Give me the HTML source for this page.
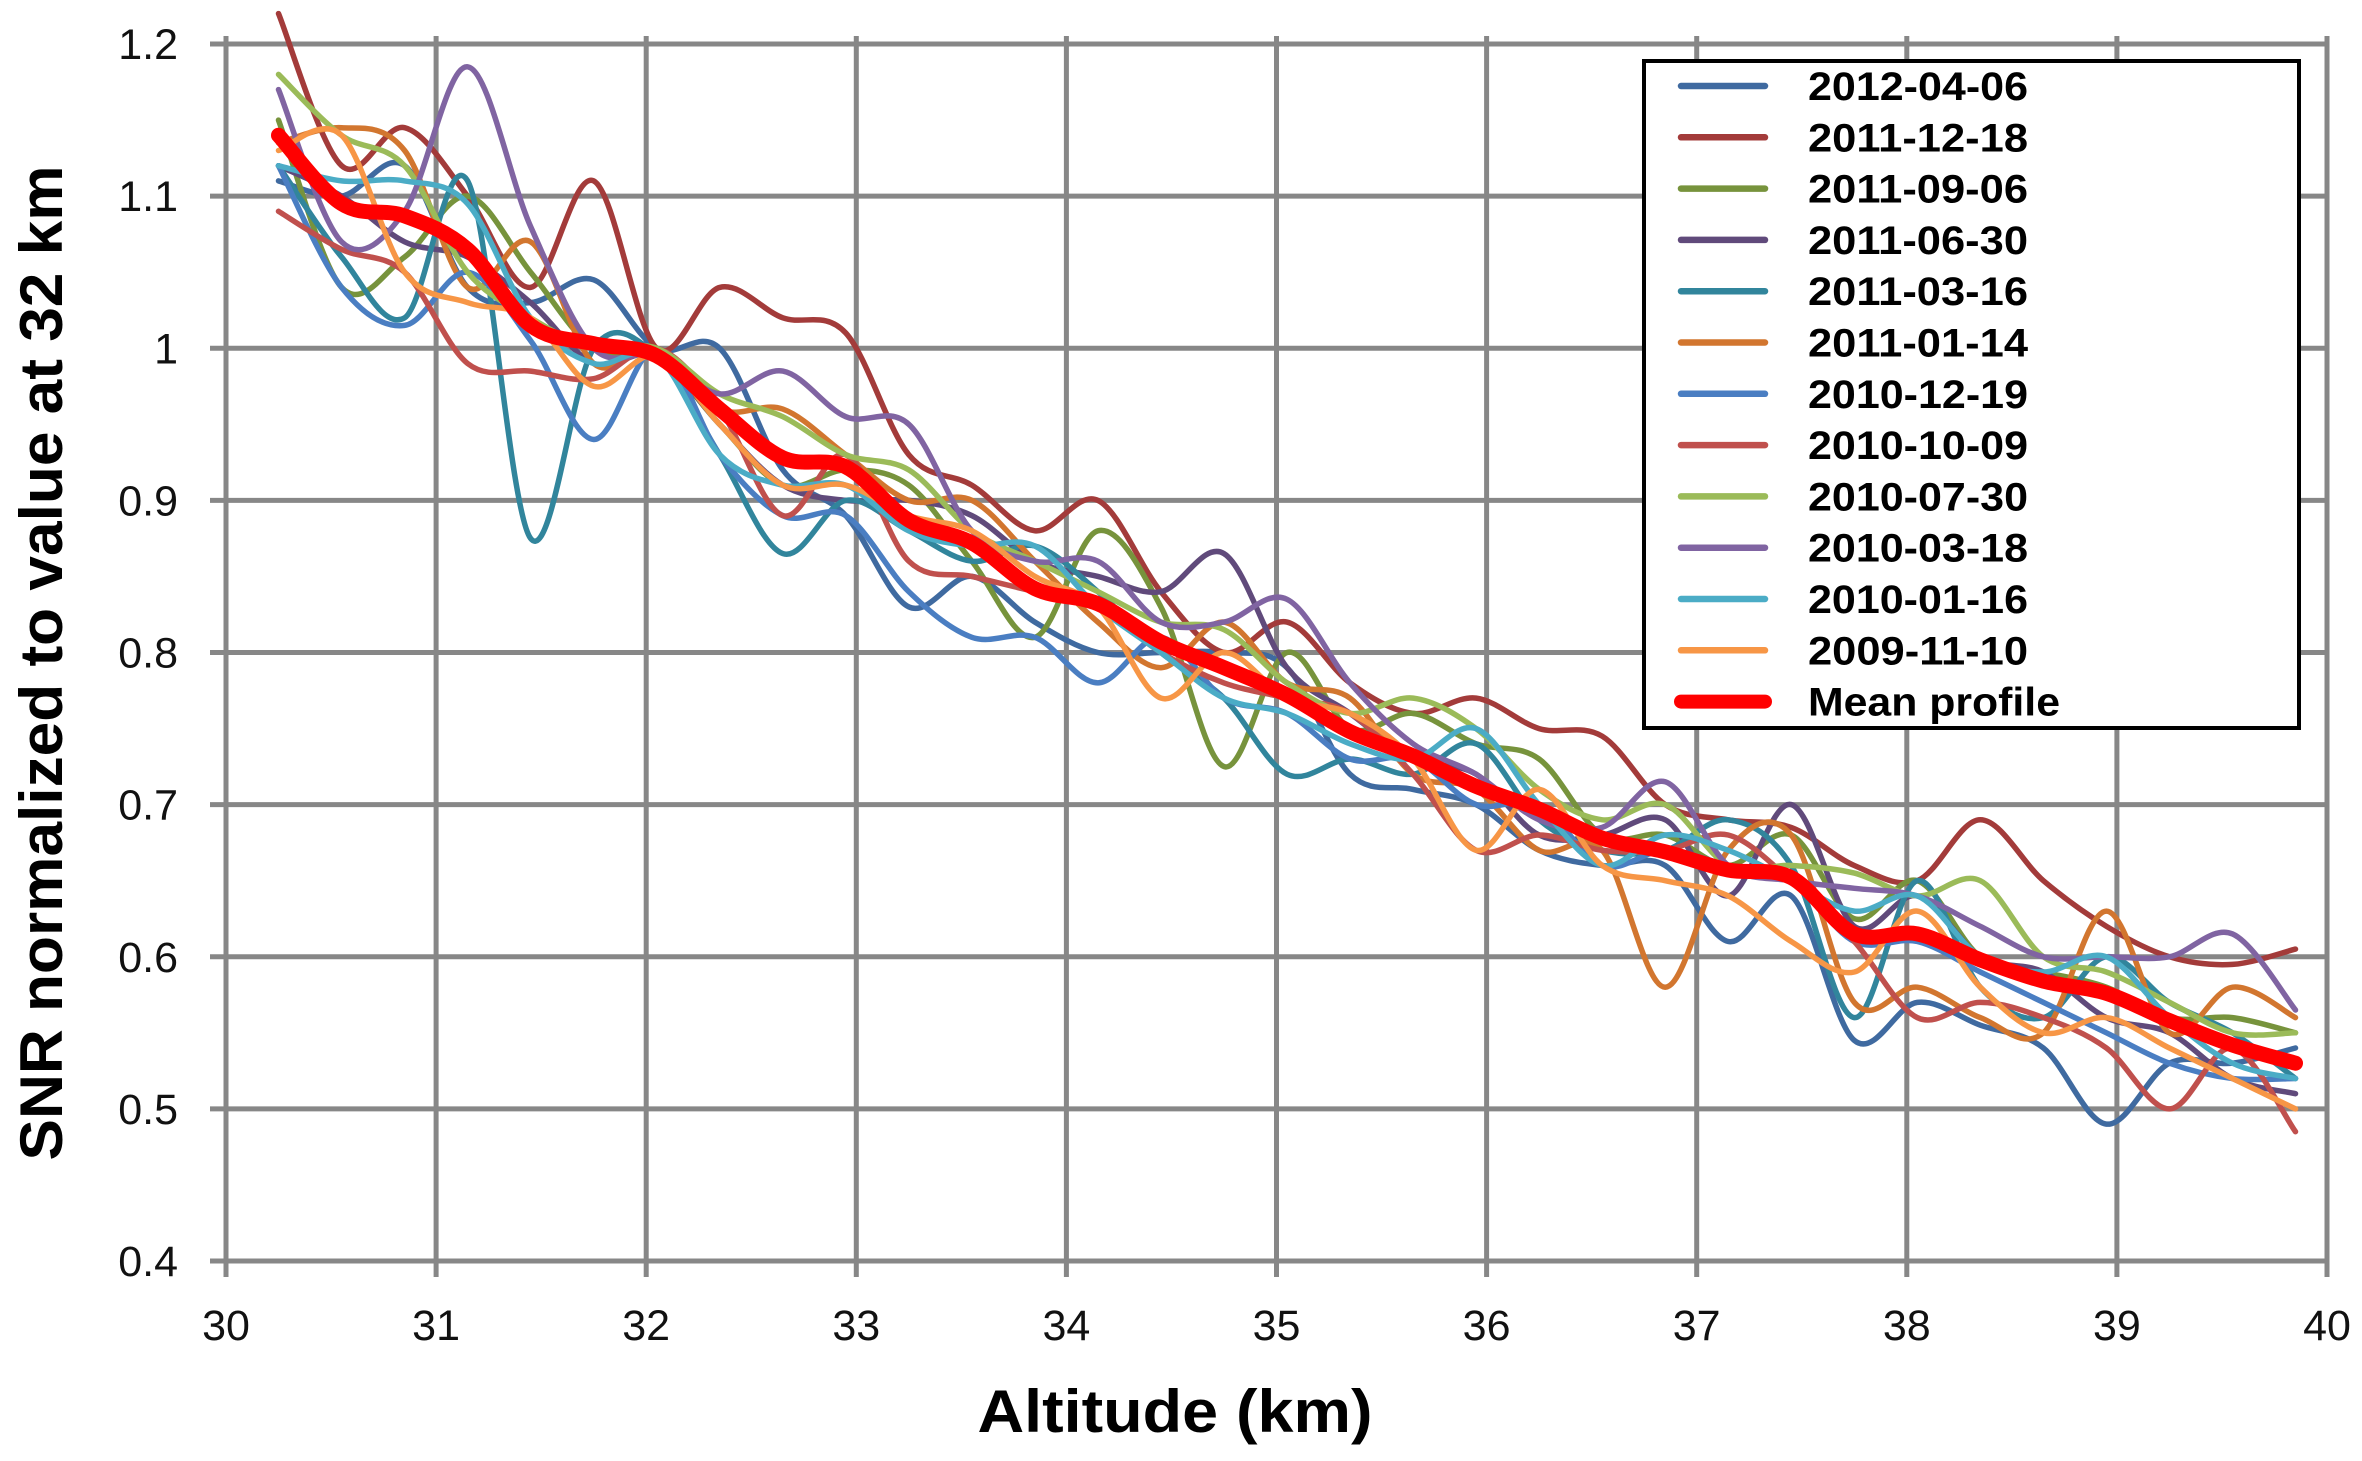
<!DOCTYPE html>
<html><head><meta charset="utf-8"><style>
html,body{margin:0;padding:0;background:#fff;}
svg{display:block;}
</style></head><body>
<svg id="chart" xmlns="http://www.w3.org/2000/svg" width="2362" height="1461" viewBox="0 0 2362 1461">
<rect x="0" y="0" width="2362" height="1461" fill="#fff"/>
<g id="grid"></g>
<g id="series"></g>
<g id="axes"></g>
<g id="legend"></g>
<text x="1175" y="1432" text-anchor="middle" font-family="'Liberation Sans',sans-serif" font-weight="bold" font-size="60" textLength="395" lengthAdjust="spacingAndGlyphs">Altitude (km)</text>
<text transform="translate(62,663) rotate(-90)" text-anchor="middle" font-family="'Liberation Sans',sans-serif" font-weight="bold" font-size="60" textLength="995" lengthAdjust="spacingAndGlyphs">SNR normalized to value at 32 km</text>
</svg>
<script>
const xTicks = [30,31,32,33,34,35,36,37,38,39,40];
const yTicks = [0.4,0.5,0.6,0.7,0.8,0.9,1,1.1,1.2];
const yTickLabels = ["0.4","0.5","0.6","0.7","0.8","0.9","1","1.1","1.2"];
const altitudes = [30.25,30.55,30.85,31.15,31.45,31.75,32.05,32.35,32.65,32.95,33.25,33.55,33.85,34.15,34.45,34.75,35.05,35.35,35.65,35.95,36.25,36.55,36.85,37.15,37.45,37.75,38.05,38.35,38.65,38.95,39.25,39.55,39.85];
const seriesNames = ["2012-04-06","2011-12-18","2011-09-06","2011-06-30","2011-03-16","2011-01-14","2010-12-19","2010-10-09","2010-07-30","2010-03-18","2010-01-16","2009-11-10"];
const s20120406 = [1.11,1.10,1.12,1.04,1.03,1.045,1.0,1.0,0.92,0.89,0.83,0.85,0.82,0.80,0.80,0.80,0.79,0.72,0.71,0.70,0.67,0.66,0.66,0.61,0.64,0.545,0.57,0.555,0.54,0.49,0.53,0.53,0.54];
const s20111218 = [1.22,1.12,1.145,1.10,1.04,1.11,1.0,1.04,1.02,1.01,0.93,0.91,0.88,0.90,0.84,0.80,0.82,0.78,0.76,0.77,0.75,0.745,0.70,0.69,0.685,0.66,0.65,0.69,0.65,0.62,0.60,0.595,0.605];
const s20110906 = [1.15,1.04,1.06,1.10,1.05,1.0,0.995,0.95,0.91,0.92,0.91,0.86,0.81,0.88,0.83,0.725,0.80,0.75,0.76,0.74,0.73,0.68,0.68,0.66,0.68,0.625,0.65,0.60,0.59,0.58,0.56,0.56,0.55];
const s20110630 = [1.12,1.10,1.07,1.06,1.03,0.99,0.995,0.95,0.91,0.90,0.90,0.89,0.86,0.85,0.84,0.865,0.79,0.76,0.73,0.72,0.68,0.68,0.69,0.64,0.70,0.62,0.64,0.60,0.59,0.56,0.55,0.52,0.51];
const s20110316 = [1.12,1.06,1.02,1.11,0.875,1.0,0.995,0.93,0.865,0.90,0.88,0.86,0.87,0.84,0.80,0.77,0.72,0.73,0.72,0.74,0.69,0.67,0.67,0.69,0.66,0.56,0.65,0.58,0.56,0.60,0.57,0.55,0.52];
const s20110114 = [1.135,1.145,1.13,1.04,1.07,0.99,1.0,0.96,0.96,0.93,0.90,0.90,0.86,0.82,0.79,0.82,0.78,0.77,0.72,0.71,0.67,0.67,0.58,0.67,0.68,0.57,0.58,0.56,0.55,0.63,0.55,0.58,0.56];
const s20101219 = [1.12,1.04,1.015,1.05,1.005,0.94,1.0,0.93,0.89,0.89,0.84,0.81,0.81,0.78,0.81,0.77,0.76,0.73,0.73,0.70,0.70,0.66,0.67,0.66,0.65,0.61,0.61,0.59,0.57,0.55,0.53,0.52,0.52];
const s20101009 = [1.09,1.065,1.05,0.99,0.985,0.98,1.0,0.96,0.89,0.93,0.86,0.85,0.84,0.83,0.80,0.78,0.77,0.76,0.72,0.67,0.68,0.67,0.67,0.68,0.65,0.61,0.56,0.57,0.56,0.54,0.50,0.54,0.485];
const s20100730 = [1.18,1.14,1.12,1.05,1.02,1.0,1.0,0.97,0.955,0.93,0.92,0.88,0.86,0.84,0.82,0.815,0.78,0.76,0.77,0.75,0.71,0.69,0.70,0.66,0.66,0.655,0.64,0.65,0.60,0.59,0.57,0.55,0.55];
const s20100318 = [1.17,1.07,1.09,1.185,1.08,1.0,0.995,0.97,0.985,0.955,0.95,0.88,0.86,0.86,0.82,0.82,0.835,0.78,0.74,0.72,0.69,0.685,0.715,0.66,0.65,0.645,0.64,0.62,0.60,0.60,0.60,0.615,0.565];
const s20100116 = [1.12,1.11,1.11,1.095,1.02,0.99,0.995,0.93,0.91,0.91,0.88,0.87,0.87,0.83,0.80,0.77,0.76,0.74,0.73,0.75,0.70,0.66,0.68,0.67,0.65,0.63,0.64,0.60,0.59,0.60,0.56,0.53,0.52];
const s20091110 = [1.13,1.14,1.05,1.03,1.02,0.975,0.995,0.95,0.91,0.91,0.89,0.88,0.85,0.83,0.77,0.80,0.77,0.76,0.73,0.67,0.71,0.66,0.65,0.64,0.61,0.59,0.63,0.58,0.55,0.56,0.54,0.52,0.50];
const meanProfile = [1.14,1.095,1.087,1.065,1.015,1.003,0.995,0.96,0.928,0.922,0.887,0.872,0.842,0.832,0.807,0.79,0.772,0.748,0.732,0.712,0.697,0.678,0.669,0.657,0.652,0.615,0.615,0.598,0.584,0.576,0.558,0.542,0.53];
const seriesValues = [s20120406,s20111218,s20110906,s20110630,s20110316,s20110114,s20101219,s20101009,s20100730,s20100318,s20100116,s20091110];
const colors = ["#3f6aa0","#a33b3a","#77933c","#604a7b","#31859c","#d2762f","#4a7ec2","#c0504d","#9bbb59","#8064a2","#4bacc6","#f79646"];

const NS="http://www.w3.org/2000/svg";
const L=226,R=2327,T=44,B=1261;
const xS=v=>L+(v-30)/10*(R-L);
const yS=v=>B-(v-0.4)/0.8*(B-T);
function mk(tag,attrs,parent){const e=document.createElementNS(NS,tag);for(const k in attrs)e.setAttribute(k,attrs[k]);parent.appendChild(e);return e;}
const grid=document.getElementById('grid'),axes=document.getElementById('axes'),sg=document.getElementById('series'),lg=document.getElementById('legend');
const FONT="'Liberation Sans',sans-serif";
xTicks.forEach(t=>{
  const l=mk('line',{x1:xS(t),x2:xS(t),y1:T-8,y2:B+16,stroke:'#878787','stroke-width':5},grid);
  
  
  const tx=mk('text',{x:xS(t),y:B+79,'text-anchor':'middle','font-family':FONT,'font-size':43,fill:'#111'},axes);
  tx.textContent=String(t);
  
  
});
yTicks.forEach((t,i)=>{
  const l=mk('line',{x1:L-16,x2:R,y1:yS(t),y2:yS(t),stroke:'#878787','stroke-width':5},grid);
  
  
  const tx=mk('text',{x:178,y:yS(t)+15,'text-anchor':'end','font-family':FONT,'font-size':43,fill:'#111'},axes);
  tx.textContent=yTickLabels[i];
  
  
});
function pathD(xs,ys){
  const p=xs.map((x,i)=>[xS(x),yS(ys[i])]);
  let d='M'+p[0][0].toFixed(1)+','+p[0][1].toFixed(1);
  for(let i=0;i<p.length-1;i++){
    const p0=p[i-1]||p[i],p1=p[i],p2=p[i+1],p3=p[i+2]||p2;
    const c1=[p1[0]+(p2[0]-p0[0])/6,p1[1]+(p2[1]-p0[1])/6];
    const c2=[p2[0]-(p3[0]-p1[0])/6,p2[1]-(p3[1]-p1[1])/6];
    d+=' C'+c1[0].toFixed(1)+','+c1[1].toFixed(1)+' '+c2[0].toFixed(1)+','+c2[1].toFixed(1)+' '+p2[0].toFixed(1)+','+p2[1].toFixed(1);
  }
  return d;
}
seriesValues.forEach((vals,i)=>{
  const p=mk('path',{d:pathD(altitudes,vals),fill:'none',stroke:colors[i],'stroke-width':5.5,'stroke-linejoin':'round','stroke-linecap':'round'},sg);
  
  
});
const mp=mk('path',{d:pathD(altitudes,meanProfile),fill:'none',stroke:'#ff0000','stroke-width':15,'stroke-linejoin':'round','stroke-linecap':'round'},sg);



const box=mk('rect',{x:1644,y:61,width:655,height:667,fill:'#fff',stroke:'#000','stroke-width':4},lg);


const names=seriesNames.concat(['Mean profile']);
names.forEach((n,i)=>{
  const y=86+i*51.3;
  const isMean=i===12;
  const g=mk('g',{},lg);
  
  
  mk('line',{x1:1681,x2:1765,y1:y,y2:y,stroke:isMean?'#ff0000':colors[i],'stroke-width':isMean?14:6.5,'stroke-linecap':'round'},g);
  const t=mk('text',{x:1808,y:y+14,'font-family':"'Liberation Sans',sans-serif",'font-weight':'bold','font-size':40,fill:'#000',textLength:isMean?252:220,lengthAdjust:'spacingAndGlyphs'},g);
  t.textContent=n;
});
</script>
</body></html>
